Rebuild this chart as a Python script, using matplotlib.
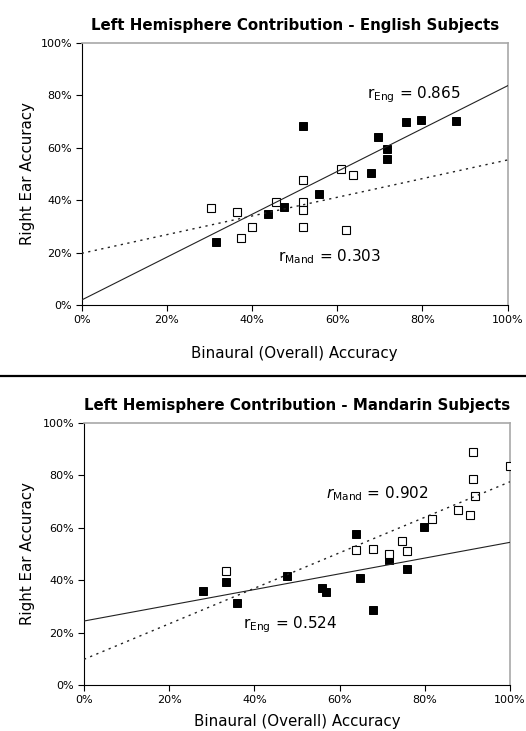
#!/usr/bin/env python3
from matplotlib import pyplot as plt
from matplotlib.lines import Line2D
from matplotlib.ticker import PercentFormatter

# English subjects panel: filled = English, open = Mandarin
eng1_x = [0.519, 0.316, 0.437, 0.476, 0.556, 0.680, 0.695, 0.717, 0.717, 0.761, 0.797, 0.879]
eng1_y = [0.684, 0.239, 0.348, 0.372, 0.423, 0.503, 0.642, 0.593, 0.557, 0.696, 0.705, 0.701]
mand1_x = [0.303, 0.365, 0.375, 0.399, 0.457, 0.519, 0.519, 0.519, 0.519, 0.608, 0.638, 0.621]
mand1_y = [0.368, 0.356, 0.254, 0.297, 0.394, 0.478, 0.393, 0.361, 0.297, 0.520, 0.494, 0.285]
# trendline values at x=0 and x=1
eng1_fit = [0.019, 0.836]
mand1_fit = [0.197, 0.553]

# Mandarin subjects panel
eng2_x = [0.280, 0.333, 0.359, 0.476, 0.558, 0.569, 0.638, 0.649, 0.678, 0.717, 0.758, 0.797]
eng2_y = [0.360, 0.393, 0.313, 0.414, 0.371, 0.356, 0.574, 0.409, 0.287, 0.476, 0.443, 0.604]
mand2_x = [0.333, 0.638, 0.678, 0.717, 0.747, 0.758, 0.817, 0.879, 0.905, 0.912, 0.912, 0.918, 1.0]
mand2_y = [0.433, 0.516, 0.520, 0.498, 0.550, 0.511, 0.632, 0.667, 0.649, 0.888, 0.784, 0.720, 0.835]
eng2_fit = [0.244, 0.544]
mand2_fit = [0.098, 0.775]

ticks = [0, 0.2, 0.4, 0.6, 0.8, 1.0]


def panel(ax, title, ex, ey, mx, my, efit, mfit, xpad, ypad):
    ax.plot(ex, ey, 's', ms=5.5, mfc='black', mec='black', mew=0.7, zorder=2)
    ax.plot(mx, my, 's', ms=5.5, mfc='white', mec='black', mew=0.8, zorder=3)
    ax.plot([0, 1], efit, '-', color='#222222', lw=0.8, zorder=4)
    ax.plot([0, 1], mfit, color='#222222', lw=1.0, ls=(0, (1.6, 3.2)), zorder=4)
    ax.set_xlim(0, 1)
    ax.set_ylim(0, 1)
    ax.set_xticks(ticks)
    ax.set_yticks(ticks)
    ax.xaxis.set_major_formatter(PercentFormatter(1.0, decimals=0))
    ax.yaxis.set_major_formatter(PercentFormatter(1.0, decimals=0))
    ax.tick_params(length=4, width=0.8, labelsize=8, pad=3)
    for s in ['left', 'bottom']:
        ax.spines[s].set_color('black')
        ax.spines[s].set_linewidth(0.8)
    for s in ['top', 'right']:
        ax.spines[s].set_color('#a8a8a8')
        ax.spines[s].set_linewidth(1.2)
    ax.set_xlabel('Binaural (Overall) Accuracy', fontsize=10.8, labelpad=xpad)
    ax.set_ylabel('Right Ear Accuracy', fontsize=10.8, labelpad=ypad)
    ax.set_title(title, fontsize=10.8, fontweight='bold', pad=9)


fig = plt.figure(figsize=(5.26, 7.31), dpi=100)
ax1 = fig.add_axes([0.1553, 0.5828, 0.8099, 0.3588])
ax2 = fig.add_axes([0.1597, 0.0629, 0.8099, 0.3588])

panel(ax1, 'Left Hemisphere Contribution - English Subjects',
      eng1_x, eng1_y, mand1_x, mand1_y, eng1_fit, mand1_fit, 15, 3.5)
panel(ax2, 'Left Hemisphere Contribution - Mandarin Subjects',
      eng2_x, eng2_y, mand2_x, mand2_y, eng2_fit, mand2_fit, 7, 5.5)

ax1.text(0.669, 0.80, r'$\mathrm{r}_{\mathrm{Eng}}$ = 0.865', fontsize=11, va='center')
ax1.text(0.46, 0.184, r'$\mathrm{r}_{\mathrm{Mand}}$ = 0.303', fontsize=11, va='center')
ax2.text(0.568, 0.73, r'$r_{\mathrm{Mand}}$ = 0.902', fontsize=11, va='center')
ax2.text(0.3725, 0.229, r'$\mathrm{r}_{\mathrm{Eng}}$ = 0.524', fontsize=11, va='center')

# separator between the two panels
fig.add_artist(Line2D([0, 1], [1 - 375.7 / 731, 1 - 375.7 / 731],
                      color='black', lw=1.6, transform=fig.transFigure))

fig.savefig('out.png', dpi=100)
